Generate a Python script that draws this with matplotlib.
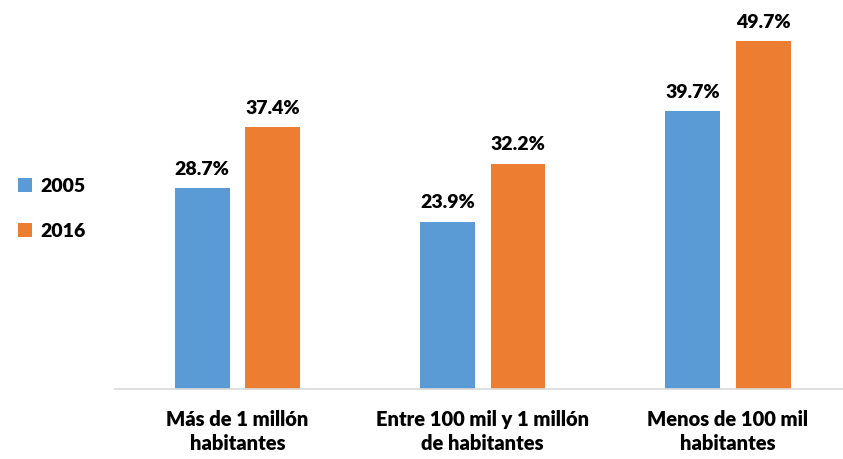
import matplotlib.pyplot as plt
import numpy as np

categories = ['Más de 1 millón\nhabitantes', 'Entre 100 mil y 1 millón\nde habitantes', 'Menos de 100 mil\nhabitantes']
years = ['2005', '2016']
values_2005 = [28.7, 23.9, 39.7]
values_2016 = [37.4, 32.2, 49.7]
colors = ['#5B9BD5', '#ED7D31']

plt.rcParams['font.family'] = ['Lato', 'DejaVu Sans']
plt.rcParams['font.weight'] = 'heavy'

fig = plt.figure(figsize=(8.43, 4.59), dpi=100)
ax = fig.add_axes([0.1364, 0.1525, 0.8636, 0.8388])

x = np.arange(len(categories))
width = 0.224
offset = 0.1437

for vals, dx, color, year in zip([values_2005, values_2016], [-offset, offset], colors, years):
    bars = ax.bar(x + dx, vals, width, color=color, label=year)
    for b, v in zip(bars, vals):
        ax.text(b.get_x() + b.get_width() / 2, v + 1.5, f'{v:.1f}%',
                ha='center', va='bottom', fontsize=14, fontweight='heavy')

ax.set_xlim(-0.4995, 2.469)
ax.set_ylim(0, 55)
ax.set_xticks(x)
ax.set_xticklabels(categories, fontsize=14.5, fontweight='heavy', linespacing=1.35)
ax.tick_params(axis='x', length=0, pad=15)
ax.set_yticks([])
for side in ['top', 'right', 'left']:
    ax.spines[side].set_visible(False)
ax.spines['bottom'].set_color('#d9d9d9')
ax.spines['bottom'].set_linewidth(1.2)

fig.legend(loc='center left', bbox_to_anchor=(0.0, 0.545), frameon=False,
           prop={'size': 14, 'weight': 'heavy'}, handlelength=0.75, handleheight=0.75,
           handletextpad=0.45, labelspacing=1.45)

fig.savefig('out.png', dpi=100)
